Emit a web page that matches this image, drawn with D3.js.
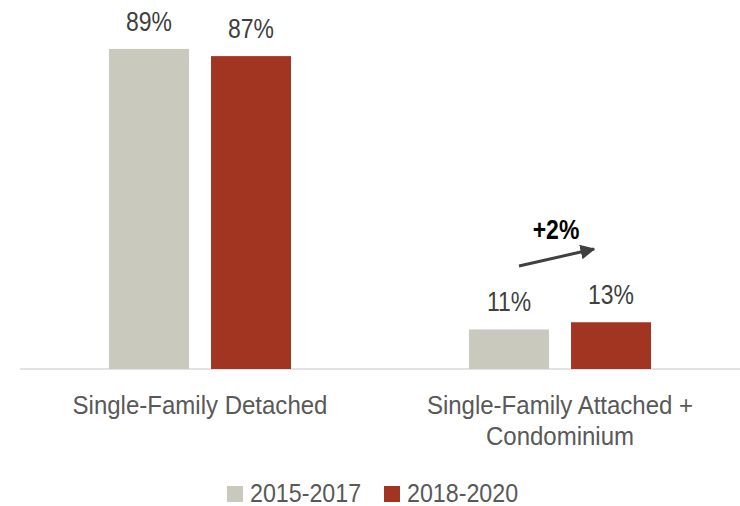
<!DOCTYPE html>
<html lang="en">
<head>
<meta charset="UTF-8">
<script src="https://d3js.org/d3.v7.min.js"></script>
<style>
body { margin: 0; background: #fff; }
svg text { font-family: "Liberation Sans", Arial, sans-serif; }
</style>
</head>
<body>
<svg></svg>
<script>
// chart data
const categories = [["Single-Family Detached"], ["Single-Family Attached +", "Condominium"]];
const series = ["2015-2017", "2018-2020"];
const values2015 = [89, 11];
const values2018 = [87, 13];
const colors = ["#c9c9bd", "#a23522"];
const changeLabel = "+2%";

const width = 740, height = 506;
const svg = d3.select("svg").attr("width", width).attr("height", height);

const x = d3.scaleBand().domain(d3.range(categories.length)).range([20, 740]);
const inner = d3.scaleBand().domain(series).range([-91, 91]).paddingInner(0.216);
const y = d3.scaleLinear().domain([0, 102.6]).range([369, 0]);

// condensed text: the original font is narrower than what we have
function ctext(px, py, sx, size, anchor) {
  return svg.append("g")
    .attr("transform", "translate(" + px + "," + py + ") scale(" + sx + ",1)")
    .append("text")
    .attr("text-anchor", anchor || "middle")
    .attr("font-size", size);
}

const rows = [];
categories.forEach(function(c, i) {
  rows.push({ cat: i, s: series[0], v: values2015[i] });
  rows.push({ cat: i, s: series[1], v: values2018[i] });
});

// axis line
svg.append("line")
  .attr("x1", 20).attr("x2", 740)
  .attr("y1", y(0)).attr("y2", y(0))
  .attr("stroke", "#d9d9d9").attr("stroke-width", 1.5);

svg.selectAll("rect.bar").data(rows).enter().append("rect")
  .attr("class", "bar")
  .attr("x", function(d) { return x(d.cat) + x.bandwidth() / 2 + inner(d.s); })
  .attr("width", inner.bandwidth())
  .attr("y", function(d) { return y(d.v); })
  .attr("height", function(d) { return y(0) - y(d.v); })
  .attr("fill", function(d) { return colors[series.indexOf(d.s)]; });

rows.forEach(function(d) {
  const bx = x(d.cat) + x.bandwidth() / 2 + inner(d.s) + inner.bandwidth() / 2;
  ctext(bx, y(d.v) - 18, 0.82, 28)
    .attr("fill", "#404040")
    .text(d.v + "%");
});

// category labels
categories.forEach(function(lines, i) {
  lines.forEach(function(l, j) {
    ctext(x(i) + x.bandwidth() / 2, 414 + j * 31, 0.924, 26)
      .attr("fill", "#595959")
      .text(l);
  });
});

// change annotation
svg.append("defs").append("marker")
  .attr("id", "arr").attr("viewBox", "0 0 10 10")
  .attr("refX", 9).attr("refY", 5)
  .attr("markerWidth", 5).attr("markerHeight", 5)
  .attr("markerUnits", "strokeWidth")
  .attr("orient", "auto")
  .append("path").attr("d", "M0,0 L10,5 L0,10 z").attr("fill", "#404040");

const cx = x(1) + x.bandwidth() / 2;
svg.append("line")
  .attr("x1", cx - 41).attr("y1", 266)
  .attr("x2", cx + 34).attr("y2", 249)
  .attr("stroke", "#404040").attr("stroke-width", 3)
  .attr("marker-end", "url(#arr)");

ctext(cx - 4, 239, 0.82, 28)
  .attr("font-weight", "bold")
  .attr("fill", "#000")
  .text(changeLabel);

// legend
const legendX = [227, 384];
series.forEach(function(s, i) {
  svg.append("rect").attr("x", legendX[i]).attr("y", 486)
    .attr("width", 16).attr("height", 16).attr("fill", colors[i]);
  ctext(legendX[i] + 23, 502, 0.93, 25, "start")
    .attr("fill", "#595959").text(s);
});
</script>
</body>
</html>
